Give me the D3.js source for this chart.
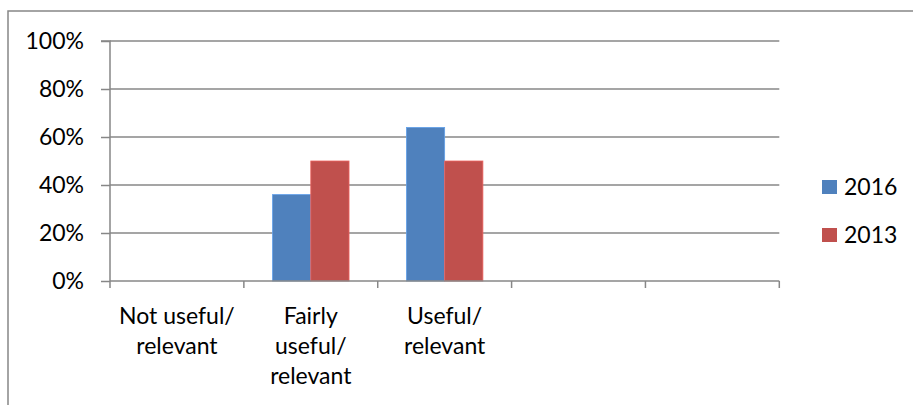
<!DOCTYPE html>
<html>
<head>
<meta charset="utf-8">
<script src="https://cdn.jsdelivr.net/npm/d3@7"></script>
<style>
  html, body { margin: 0; padding: 0; background: #fff; }
  svg { display: block; font-family: Lato, "Open Sans", sans-serif; }
</style>
</head>
<body>
<svg id="chart" width="913" height="405"></svg>
<script>
// Category labels (each entry is a list of wrapped lines); last two slots are empty
const categories = ["c1", "c2", "c3", "c4", "c5"];
const categoryLabels = [["Not useful/", "relevant"], ["Fairly", "useful/", "relevant"], ["Useful/", "relevant"], [], []];
const seriesNames = ["2016", "2013"];
const values2016 = [0, 36, 64, null, null];
const values2013 = [0, 50, 50, null, null];
const yTicks = [0, 20, 40, 60, 80, 100];
const colors = ["#4F81BD", "#C0504D"];

const svg = d3.select("#chart");
const W = 913, H = 405;
const grid = "#878787";
const fontSize = 23;

// Outer chart frame
svg.append("rect")
  .attr("x", 8).attr("y", 11)
  .attr("width", W + 10).attr("height", H + 10)
  .attr("fill", "none").attr("stroke", grid).attr("stroke-width", 1.5);

const plotLeft = 110, plotRight = 779.3, plotTop = 41, plotBottom = 281;

const x = d3.scaleBand().domain(categories).range([plotLeft, plotRight]).paddingInner(0).paddingOuter(0);
const y = d3.scaleLinear().domain([0, 100]).range([plotBottom, plotTop]);
// Two bars per slot with a 150% gap shared on both sides
const xs = d3.scaleBand().domain(seriesNames).range([0, x.bandwidth()]).paddingInner(0).paddingOuter(0.75);

// Gridlines
svg.append("g").selectAll("line").data(yTicks.filter(d => d > 0)).join("line")
  .attr("x1", plotLeft).attr("x2", plotRight)
  .attr("y1", d => y(d)).attr("y2", d => y(d))
  .attr("stroke", grid).attr("stroke-width", 1.5);

// Y axis
const yAxis = d3.axisLeft(y).tickValues(yTicks).tickFormat(d => d + "%").tickSize(9).tickPadding(17);
const gy = svg.append("g").attr("transform", `translate(${plotLeft},0)`).call(yAxis);
gy.select(".domain").attr("stroke", grid).attr("stroke-width", 1.5).attr("d", `M-9,${plotTop}H0V${plotBottom}`);
gy.selectAll(".tick line").attr("stroke", grid).attr("stroke-width", 1.5);
gy.selectAll(".tick text").attr("font-size", fontSize).attr("fill", "#000").attr("font-family", "Lato, sans-serif");

// Bars
const series = [values2016, values2013];
series.forEach((vals, si) => {
  svg.append("g").selectAll("rect")
    .data(categories.map((c, i) => ({ c, v: vals[i] })).filter(d => d.v))
    .join("rect")
    .attr("x", d => x(d.c) + xs(seriesNames[si]))
    .attr("width", xs.bandwidth())
    .attr("y", d => y(d.v))
    .attr("height", d => plotBottom - y(d.v))
    .attr("fill", colors[si])
    .attr("stroke", d3.color(colors[si]).brighter(0.6))
    .attr("stroke-width", 0.8);
});

// X axis
const xAxis = d3.axisBottom(x).tickSize(0).tickFormat("");
const gx = svg.append("g").attr("transform", `translate(0,${plotBottom})`).call(xAxis);
gx.select(".domain").attr("stroke", grid).attr("stroke-width", 1.5).attr("d", `M${plotLeft},0H${plotRight}`);
const boundaries = categories.map(c => x(c)).concat([plotRight]);
gx.selectAll("line.bnd").data(boundaries).join("line").attr("class", "bnd")
  .attr("x1", d => d).attr("x2", d => d).attr("y1", 0).attr("y2", 7)
  .attr("stroke", grid).attr("stroke-width", 1.5);

// Category labels
categories.forEach((c, i) => {
  const cx = x(c) + x.bandwidth() / 2;
  const t = svg.append("text")
    .attr("x", cx)
    .attr("y", 324)
    .attr("text-anchor", "middle")
    .attr("font-size", fontSize).attr("fill", "#000");
  categoryLabels[i].forEach((line, li) => {
    t.append("tspan").attr("x", cx).attr("y", 324 + li * 30).text(line);
  });
});

// Legend
const legend = svg.append("g");
seriesNames.forEach((s, i) => {
  const ly = 180 + i * 48;
  legend.append("rect").attr("x", 822).attr("y", ly).attr("width", 15).attr("height", 14).attr("fill", colors[i]);
  legend.append("text").attr("x", 844).attr("y", ly + 15).attr("font-size", fontSize).attr("fill", "#000").text(s);
});
</script>
</body>
</html>
